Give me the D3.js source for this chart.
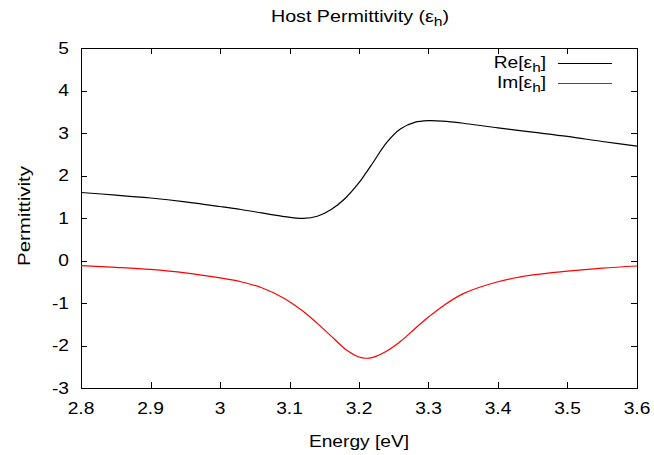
<!DOCTYPE html>
<html>
<head>
<meta charset="utf-8">
<script src="https://cdn.jsdelivr.net/npm/d3@7"></script>
<style>
  body { margin: 0; background: #fff; }
  text { font-family: "Liberation Sans", Arial, sans-serif; font-size: 16px; fill: #000; }
</style>
</head>
<body>
<svg id="chart" width="654" height="455"></svg>
<script>
// values
var energy = [2.8, 2.85, 2.9, 2.95, 3.0, 3.03, 3.06, 3.09, 3.12, 3.14, 3.16, 3.18, 3.2, 3.21, 3.22, 3.24, 3.26, 3.28, 3.30, 3.32, 3.35, 3.4, 3.45, 3.5, 3.55, 3.6];
var reEps  = [1.60, 1.54, 1.47, 1.38, 1.27, 1.20, 1.12, 1.04, 0.99, 1.04, 1.20, 1.46, 1.83, 2.06, 2.30, 2.78, 3.10, 3.25, 3.29, 3.28, 3.23, 3.12, 3.02, 2.92, 2.80, 2.69];
var imEps  = [-0.12, -0.16, -0.21, -0.29, -0.41, -0.50, -0.64, -0.87, -1.20, -1.48, -1.78, -2.08, -2.27, -2.30, -2.28, -2.13, -1.90, -1.61, -1.33, -1.08, -0.78, -0.50, -0.34, -0.25, -0.18, -0.13];
var xTicks = [2.8, 2.9, 3.0, 3.1, 3.2, 3.3, 3.4, 3.5, 3.6];
var yTicks = [-3, -2, -1, 0, 1, 2, 3, 4, 5];

var svg = d3.select('#chart');
var pL = 81, pR = 637, pT = 48, pB = 388;
var sx = 1.2; // glyphs in the picture are wider than Liberation Sans

var x = d3.scaleLinear().domain([2.8, 3.6]).range([pL, pR]);
var y = d3.scaleLinear().domain([-3, 5]).range([pB, pT]);

// ticks on all four sides, pointing inward
var g = svg.append('g');
xTicks.forEach(function (t) {
    var px = Math.round(x(t)) + 0.5;
    g.append('line').attr('x1', px).attr('x2', px).attr('y1', pB).attr('y2', pB - 6).attr('stroke', '#000');
    g.append('line').attr('x1', px).attr('x2', px).attr('y1', pT).attr('y2', pT + 6).attr('stroke', '#000');
    g.append('text')
        .attr('transform', 'translate(' + x(t) + ',414) scale(' + sx + ',1)')
        .attr('text-anchor', 'middle')
        .text(d3.format('')(t));
});
yTicks.forEach(function (t) {
    var py = Math.round(y(t)) + 0.5;
    g.append('line').attr('x1', pL).attr('x2', pL + 6).attr('y1', py).attr('y2', py).attr('stroke', '#000');
    g.append('line').attr('x1', pR).attr('x2', pR - 6).attr('y1', py).attr('y2', py).attr('stroke', '#000');
    g.append('text')
        .attr('transform', 'translate(69,' + y(t) + ') scale(' + sx + ',1)')
        .attr('text-anchor', 'end')
        .attr('dy', '0.36em')
        .text(t);
});

svg.append('rect')
    .attr('x', pL + 0.5).attr('y', pT + 0.5)
    .attr('width', pR - pL).attr('height', pB - pT)
    .attr('fill', 'none').attr('stroke', '#000');

var line = d3.line()
    .x(function (d) { return x(d[0]); })
    .y(function (d) { return y(d[1]); })
    .curve(d3.curveCatmullRom.alpha(0.5));

svg.append('path')
    .attr('d', line(d3.zip(energy, reEps)))
    .attr('fill', 'none').attr('stroke', '#000').attr('stroke-width', 1.2);
svg.append('path')
    .attr('d', line(d3.zip(energy, imEps)))
    .attr('fill', 'none').attr('stroke', '#ff0000').attr('stroke-width', 1.2);

// text with subscript h
function epsLabel(sel, before, after) {
    sel.append('tspan').text(before + 'ε');
    sel.append('tspan').attr('dy', 4).style('font-size', '12.8px').text('h');
    sel.append('tspan').attr('dy', -4).text(after);
}

epsLabel(svg.append('text')
    .attr('transform', 'translate(360,22) scale(1.23,1)')
    .attr('text-anchor', 'middle'), 'Host Permittivity (', ')');

svg.append('text')
    .attr('transform', 'translate(359,447) scale(' + sx + ',1)')
    .attr('text-anchor', 'middle')
    .text('Energy [eV]');

svg.append('text')
    .attr('transform', 'translate(30,216) rotate(-90) scale(1.28,1)')
    .attr('text-anchor', 'middle')
    .text('Permittivity');

// legend
var legend = [['Re[', '#000', 63], ['Im[', '#ff0000', 83]];
legend.forEach(function (l) {
    epsLabel(svg.append('text')
        .attr('transform', 'translate(546,' + (l[2] + 5) + ') scale(' + sx + ',1)')
        .attr('text-anchor', 'end'), l[0], ']');
    svg.append('line')
        .attr('x1', 558).attr('x2', 612)
        .attr('y1', l[2] + 0.5).attr('y2', l[2] + 0.5)
        .attr('stroke', l[1]).attr('stroke-width', 1.2);
});
</script>
</body>
</html>
